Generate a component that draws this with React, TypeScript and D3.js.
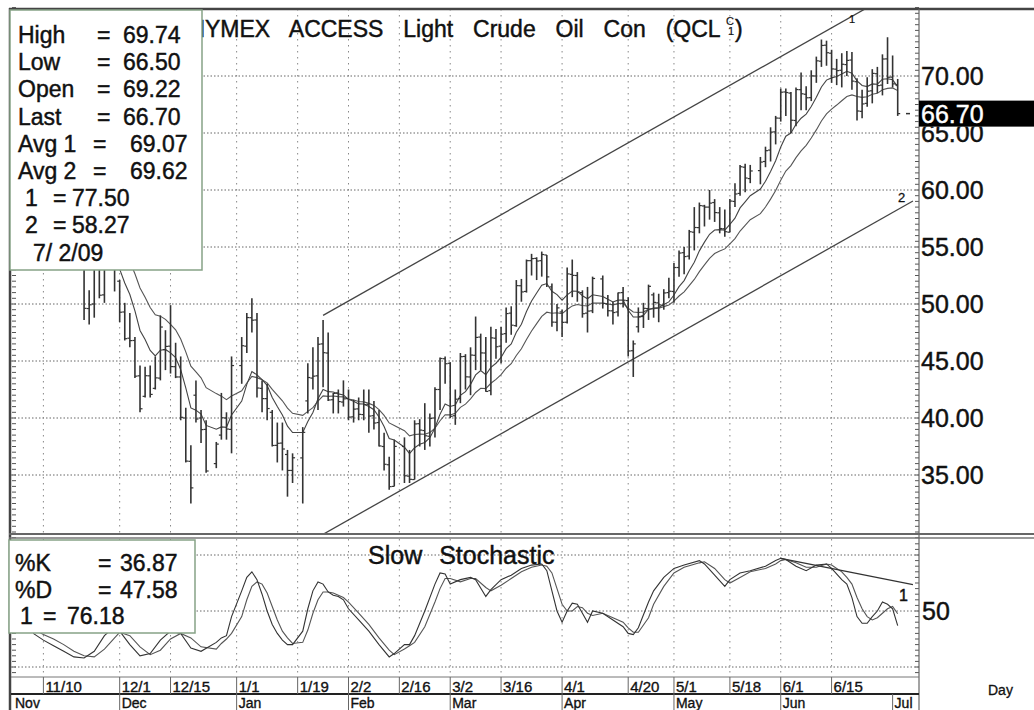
import React from 'react';
import * as d3 from 'd3';

// ---------- DATA ----------
const dates = [
  '2008-11-03','2008-11-04','2008-11-05','2008-11-06','2008-11-07','2008-11-10','2008-11-11','2008-11-12','2008-11-13','2008-11-14',
  '2008-11-17','2008-11-18','2008-11-19','2008-11-20','2008-11-21','2008-11-24','2008-11-25','2008-11-26','2008-11-28',
  '2008-12-01','2008-12-02','2008-12-03','2008-12-04','2008-12-05','2008-12-08','2008-12-09','2008-12-10','2008-12-11','2008-12-12',
  '2008-12-15','2008-12-16','2008-12-17','2008-12-18','2008-12-19','2008-12-22','2008-12-23','2008-12-24','2008-12-26',
  '2008-12-29','2008-12-30','2008-12-31','2009-01-02','2009-01-05','2009-01-06','2009-01-07','2009-01-08','2009-01-09',
  '2009-01-12','2009-01-13','2009-01-14','2009-01-15','2009-01-16','2009-01-20','2009-01-21','2009-01-22','2009-01-23',
  '2009-01-26','2009-01-27','2009-01-28','2009-01-29','2009-01-30','2009-02-02','2009-02-03','2009-02-04','2009-02-05','2009-02-06',
  '2009-02-09','2009-02-10','2009-02-11','2009-02-12','2009-02-13','2009-02-17','2009-02-18','2009-02-19','2009-02-20',
  '2009-02-23','2009-02-24','2009-02-25','2009-02-26','2009-02-27','2009-03-02','2009-03-03','2009-03-04','2009-03-05','2009-03-06',
  '2009-03-09','2009-03-10','2009-03-11','2009-03-12','2009-03-13','2009-03-16','2009-03-17','2009-03-18','2009-03-19','2009-03-20',
  '2009-03-23','2009-03-24','2009-03-25','2009-03-26','2009-03-27','2009-03-30','2009-03-31','2009-04-01','2009-04-02','2009-04-03',
  '2009-04-06','2009-04-07','2009-04-08','2009-04-09','2009-04-13','2009-04-14','2009-04-15','2009-04-16','2009-04-17',
  '2009-04-20','2009-04-21','2009-04-22','2009-04-23','2009-04-24','2009-04-27','2009-04-28','2009-04-29','2009-04-30','2009-05-01',
  '2009-05-04','2009-05-05','2009-05-06','2009-05-07','2009-05-08','2009-05-11','2009-05-12','2009-05-13','2009-05-14','2009-05-15',
  '2009-05-18','2009-05-19','2009-05-20','2009-05-21','2009-05-22','2009-05-26','2009-05-27','2009-05-28','2009-05-29',
  '2009-06-01','2009-06-02','2009-06-03','2009-06-04','2009-06-05','2009-06-08','2009-06-09','2009-06-10','2009-06-11','2009-06-12',
  '2009-06-15','2009-06-16','2009-06-17','2009-06-18','2009-06-19','2009-06-22','2009-06-23','2009-06-24','2009-06-25','2009-06-26',
  '2009-06-29','2009-06-30','2009-07-01','2009-07-02'
];
const opens = [
  67.5,64.0,70.5,65.3,60.8,61.0,62.4,59.3,56.2,58.2,
  57.0,55.0,54.4,53.6,49.6,50.0,54.5,50.8,54.4,
  52.0,49.3,47.0,46.8,43.7,41.9,43.7,42.6,43.5,46.0,
  46.3,44.5,43.6,40.0,36.2,42.0,40.0,39.0,36.0,
  38.5,40.0,39.0,44.6,46.3,48.8,48.6,42.6,41.7,
  40.5,37.6,37.8,36.8,35.4,36.5,41.5,43.5,43.7,
  46.5,45.7,41.6,42.2,41.4,41.7,40.1,40.8,40.3,41.2,
  40.2,39.6,37.5,35.9,34.0,37.5,34.9,34.6,39.5,
  38.9,38.4,40.0,42.5,45.2,44.8,40.2,41.7,45.4,43.6,
  45.5,47.1,45.7,42.4,47.0,46.3,47.4,49.2,48.1,51.6,
  51.1,53.8,54.0,53.8,54.3,51.5,48.4,49.3,48.4,52.6,
  52.5,51.0,49.2,49.4,52.2,50.0,49.4,49.3,51.0,
  50.3,45.9,48.0,48.9,49.6,50.8,50.1,49.9,51.0,51.1,
  53.2,54.5,54.2,56.3,56.7,58.6,58.5,58.9,58.0,56.6,
  56.3,59.0,59.7,62.0,61.0,61.7,62.5,63.5,65.1,
  66.3,68.6,68.5,66.1,68.8,68.4,68.1,70.0,71.3,72.7,
  72.0,70.6,70.5,71.0,71.4,69.5,66.9,67.6,68.7,70.2,
  69.2,71.5,69.9,69.22
];
const highs = [
  67.9,71.0,71.0,65.8,62.9,65.2,63.0,59.8,59.7,59.8,
  58.4,56.5,55.7,53.8,51.2,54.7,55.0,54.6,55.2,
  52.1,50.1,49.2,47.1,44.6,44.5,44.6,45.4,49.0,47.7,
  49.9,46.6,45.4,40.9,37.6,43.3,40.7,39.8,37.9,
  42.2,40.5,45.4,47.1,49.2,50.5,49.2,43.3,43.0,
  40.7,39.6,39.6,37.2,36.9,39.2,44.8,46.2,47.1,
  48.6,47.5,42.2,42.5,43.3,42.5,41.6,41.8,42.5,42.5,
  41.5,40.7,38.7,36.6,38.1,38.3,37.2,39.8,39.9,
  41.3,40.4,42.7,45.3,45.4,44.9,42.5,45.7,45.6,46.2,
  48.9,47.4,47.1,48.0,47.8,48.0,49.7,49.8,52.1,52.2,
  53.9,54.4,54.1,54.6,54.3,51.8,50.0,49.5,53.2,53.9,
  52.8,51.2,51.5,52.4,52.5,50.8,50.2,51.0,51.5,
  50.6,46.8,49.7,50.1,51.7,51.0,50.9,51.3,52.3,53.6,
  54.7,55.0,56.5,58.5,58.9,58.7,60.0,59.2,58.5,58.3,
  59.2,60.6,62.2,62.3,62.2,62.9,63.8,65.5,66.5,
  68.9,68.9,68.6,69.0,70.3,69.1,70.5,71.7,73.2,73.1,
  72.3,71.5,72.0,72.2,72.1,69.8,68.8,69.9,70.6,70.8,
  71.9,73.4,71.8,69.74
];
const lows = [
  62.8,63.5,65.0,60.5,59.6,61.0,58.7,55.8,54.7,56.2,
  54.3,53.2,53.3,48.6,48.2,48.8,50.5,50.1,51.1,
  48.4,46.8,46.2,43.5,40.5,41.8,41.8,42.5,43.3,44.2,
  43.9,43.5,39.8,36.1,32.5,39.6,37.8,35.2,35.6,
  38.1,38.1,36.9,43.0,45.7,47.5,41.8,40.5,39.8,
  37.5,36.1,35.4,33.1,34.3,32.5,40.4,42.5,40.7,
  42.7,41.5,40.4,40.4,41.0,39.8,39.6,39.8,39.8,38.7,
  39.0,37.5,35.4,33.7,34.0,34.3,34.3,34.6,37.5,
  37.2,37.5,38.3,40.7,43.0,40.0,39.4,41.3,42.5,42.0,
  44.2,44.2,42.3,42.0,45.2,44.8,46.6,47.3,48.0,50.2,
  51.0,52.5,52.1,52.4,51.5,48.0,47.6,47.1,48.3,50.6,
  50.2,48.8,47.5,49.2,49.6,48.9,48.2,48.9,49.7,
  45.4,43.6,47.5,47.9,48.6,48.8,48.4,49.5,50.5,50.1,
  52.4,52.6,53.9,54.7,56.2,56.8,57.4,57.2,56.2,55.9,
  56.3,58.5,59.5,59.8,60.6,60.5,62.0,62.5,64.0,
  66.0,66.5,65.0,65.6,67.0,67.0,67.8,69.4,70.8,70.9,
  69.4,69.2,69.0,70.0,68.8,66.1,66.3,67.3,67.6,68.5,
  68.3,69.3,69.0,66.50
];
const closes = [
  63.91,70.53,65.30,60.77,61.04,62.41,59.33,56.16,58.24,57.04,
  54.95,54.39,53.62,49.62,49.93,54.50,50.77,54.44,54.43,
  49.28,46.96,46.79,43.67,40.81,43.71,42.07,43.52,47.98,46.28,
  44.51,43.60,40.06,36.22,33.87,39.91,38.98,35.35,37.71,
  40.02,39.03,44.60,46.34,48.81,48.58,42.63,41.70,40.83,
  37.59,37.78,37.28,35.40,36.51,38.74,43.55,43.67,46.47,
  45.73,41.58,42.16,41.44,41.68,40.08,40.78,40.32,41.17,40.17,
  39.56,37.55,35.94,33.98,37.51,34.93,34.62,39.48,38.94,
  38.44,39.96,42.50,45.22,44.76,40.15,41.65,45.38,43.61,45.52,
  47.07,45.71,42.33,47.03,46.25,47.35,49.16,48.14,51.61,51.06,
  53.80,53.98,53.77,54.34,52.38,48.41,49.66,48.39,52.64,52.51,
  51.05,49.15,49.38,52.24,50.05,49.41,49.25,50.98,50.33,
  45.88,46.50,48.86,49.62,51.55,50.14,49.92,50.97,51.12,53.20,
  54.47,54.16,56.34,56.71,58.63,58.50,58.85,58.02,56.62,56.34,
  59.03,59.65,62.04,61.05,61.67,62.45,63.45,65.08,66.31,
  68.58,68.55,66.12,68.81,68.44,68.09,70.01,71.33,72.68,72.04,
  70.62,70.47,71.03,71.37,69.55,66.93,67.55,68.67,70.23,69.16,
  71.49,69.89,69.31,66.70
];

const stochDates = [
  '2008-11-06','2008-11-10','2008-11-12','2008-11-14','2008-11-18','2008-11-20','2008-11-24','2008-11-26','2008-11-28',
  '2008-12-01','2008-12-03','2008-12-05','2008-12-09','2008-12-11','2008-12-15','2008-12-17','2008-12-19','2008-12-23',
  '2008-12-26','2008-12-29','2008-12-30','2008-12-31','2009-01-02','2009-01-05','2009-01-06','2009-01-07','2009-01-08',
  '2009-01-09','2009-01-12','2009-01-13','2009-01-14','2009-01-15','2009-01-16','2009-01-20','2009-01-21','2009-01-22',
  '2009-01-23','2009-01-26','2009-01-27','2009-01-28','2009-01-29','2009-01-30','2009-02-02','2009-02-04','2009-02-06',
  '2009-02-10','2009-02-12','2009-02-13','2009-02-17','2009-02-18','2009-02-19','2009-02-23','2009-02-25','2009-02-26',
  '2009-02-27','2009-03-02','2009-03-04','2009-03-06','2009-03-09','2009-03-11','2009-03-12','2009-03-16','2009-03-18',
  '2009-03-20','2009-03-24','2009-03-26','2009-03-27','2009-03-30','2009-03-31','2009-04-01','2009-04-02','2009-04-03',
  '2009-04-06','2009-04-07','2009-04-08','2009-04-09','2009-04-13','2009-04-15','2009-04-17','2009-04-20','2009-04-21',
  '2009-04-22','2009-04-24','2009-04-27','2009-04-29','2009-05-01','2009-05-05','2009-05-08','2009-05-11','2009-05-13',
  '2009-05-15','2009-05-18','2009-05-20','2009-05-22','2009-05-27','2009-05-29','2009-06-01','2009-06-02','2009-06-04',
  '2009-06-08','2009-06-10','2009-06-12','2009-06-15','2009-06-17','2009-06-18','2009-06-19','2009-06-22','2009-06-23',
  '2009-06-24','2009-06-25','2009-06-26','2009-06-29','2009-06-30','2009-07-01','2009-07-02'
];
const stochK = [
  30,24,19,14,9,8,14,28,36,
  32,20,10,12,24,32,30,17,14,
  22,26,28,45,68,80,85,78,65,
  50,38,30,24,20,20,32,52,68,
  76,74,67,64,63,60,52,42,32,
  20,9,12,20,20,28,50,74,84,
  83,74,78,80,78,63,69,78,82,
  88,91,92,86,68,50,40,50,57,
  56,48,40,50,48,42,36,30,29,
  35,58,68,80,88,91,95,92,82,
  72,78,84,86,90,95,97,96,90,
  86,91,92,88,78,74,62,45,39,
  39,45,50,58,56,52,36.87
];
const stochD = [
  34,29,25,20,14,10,9,16,26,
  31,28,18,11,15,25,30,26,18,
  16,21,25,30,45,60,72,76,74,
  66,54,42,32,26,21,22,33,48,
  60,67,67,66,64,62,58,48,38,
  26,15,11,16,19,22,36,58,70,
  79,79,76,79,79,71,68,73,79,
  85,89,91,90,84,70,56,50,50,
  54,53,48,46,48,44,40,35,31,
  31,44,56,72,84,89,93,94,88,
  78,75,80,85,88,92,95,96,93,
  89,89,92,91,85,80,74,62,52,
  45,42,44,48,52,54,47.58
];

const priceTicks = [35, 40, 45, 50, 55, 60, 65, 70];
const stochTicks = [0, 50, 100];
const stochLabels = [50];
const dateTickDates = ['2008-11-10','2008-12-01','2008-12-15','2009-01-01','2009-01-19','2009-02-02','2009-02-16','2009-03-02','2009-03-16','2009-04-01','2009-04-20','2009-05-01','2009-05-18','2009-06-01','2009-06-15'];
const dateTickLabels = ['11/10','12/1','12/15','1/1','1/19','2/2','2/16','3/2','3/16','4/1','4/20','5/1','5/18','6/1','6/15'];
const monthDates = ['2008-11-03','2008-12-01','2009-01-01','2009-02-02','2009-03-02','2009-04-01','2009-05-01','2009-06-01','2009-07-01'];
const monthLabels = ['Nov','Dec','Jan','Feb','Mar','Apr','May','Jun','Jul'];

const channelDates = ['2009-01-26', '2009-07-07'];
const channel1Values = [49.0, 78.26];
const channel2Values = [29.8, 59.03];
const stochTrendDates = ['2009-06-01', '2009-07-07'];
const stochTrendValues = [97, 73.5];

const infoLabels = ['High', 'Low', 'Open', 'Last', 'Avg 1', 'Avg 2', '1', '2'];
const infoValues = ['69.74', '66.50', '69.22', '66.70', '69.07', '69.62', '77.50', '58.27'];
const infoDate = '7/ 2/09';
const stochInfoLabels = ['%K', '%D', '1'];
const stochInfoValues = ['36.87', '47.58', '76.18'];
const lastPrice = 66.70;
const titleText = 'NYMEX ACCESS Light Crude Oil Con (QCL';
const avgPeriods = [9, 18];

// ---------- helpers ----------
const BASE = Date.UTC(2008, 10, 10); // Monday, weekday index 0
function wd(iso: string): number {
  const [yy, mm, dd] = iso.split('-').map(Number);
  const days = Math.round((Date.UTC(yy, mm - 1, dd) - BASE) / 864e5);
  const w = Math.floor(days / 7);
  const r = days - w * 7;
  return w * 5 + Math.min(r, 5);
}
function ema(vals: number[], n: number): number[] {
  const k = 2 / (n + 1);
  const out: number[] = [];
  let e = vals[0];
  vals.forEach((v, i) => { e = i === 0 ? v : e + k * (v - e); out.push(e); });
  return out;
}

const FONT = "'Liberation Sans', Arial, Helvetica, sans-serif";

export default function App() {
  const W = 1034, H = 710;
  const L = 11, R = 919, T = 9, B = 534, ST = 539, SB = 677;

  const x = d3.scaleLinear().domain([0, 168]).range([43.4, 897.7]);
  const X = (iso: string) => x(wd(iso));
  const y = d3.scaleLinear().domain([35, 70]).range([475, 76]);
  const ys = d3.scaleLinear().domain([0, 100]).range([667, 555]);

  const xs = dates.map(X);
  const ema1 = ema(closes, avgPeriods[0]);
  const ema2 = ema(closes, avgPeriods[1]);
  const lineP = d3.line<number>().x((_, i) => xs[i]).y((v) => y(v));
  const sx = stochDates.map(X);
  const lineS = d3.line<number>().x((_, i) => sx[i]).y((v) => ys(v));

  const minorPrice = d3.range(29.5, 76.01, 0.5);
  const minorStoch = d3.range(-5, 115, 5);
  const gridV = dateTickDates.map(X);

  const txt = { fontFamily: FONT, fill: '#111', stroke: '#111', strokeWidth: 0.45 } as const;
  const yLast = y(lastPrice);

  return (
    <svg width={W} height={H} style={{ position: 'absolute', left: 0, top: 0, background: '#fff' }}>
      <defs>
        <clipPath id="cpMain"><rect x={L + 1} y={T} width={R - L - 1} height={B - T} /></clipPath>
        <clipPath id="cpLow"><rect x={L + 1} y={ST} width={R - L - 1} height={SB - ST} /></clipPath>
        <clipPath id="cpAxis"><rect x={R} y={yLast + 13} width={W - R} height={H} /></clipPath>
      </defs>
      <rect x={0} y={0} width={W} height={H} fill="#fff" />

      {/* grid main */}
      {priceTicks.map((v) => (
        <line key={'gh' + v} x1={L} x2={R} y1={y(v)} y2={y(v)} stroke="#666" strokeWidth={1} strokeDasharray="1.5 2" />
      ))}
      {gridV.map((gx, i) => (
        <line key={'gv' + i} x1={gx} x2={gx} y1={T} y2={B} stroke="#888" strokeWidth={1} strokeDasharray="1.5 4.5" />
      ))}
      {/* grid lower */}
      {stochTicks.map((v) => (
        <line key={'sh' + v} x1={L} x2={R} y1={ys(v)} y2={ys(v)} stroke="#666" strokeWidth={1} strokeDasharray="1.5 2" />
      ))}
      {gridV.map((gx, i) => (
        <line key={'sv' + i} x1={gx} x2={gx} y1={ST} y2={SB} stroke="#888" strokeWidth={1} strokeDasharray="1.5 4.5" />
      ))}

      <g clipPath="url(#cpMain)">
        <line x1={X(channelDates[0])} y1={y(channel1Values[0])} x2={X(channelDates[1])} y2={y(channel1Values[1])} stroke="#444" strokeWidth={1.3} />
        <line x1={X(channelDates[0])} y1={y(channel2Values[0])} x2={X(channelDates[1])} y2={y(channel2Values[1])} stroke="#444" strokeWidth={1.3} />
        <path d={lineP(ema2) || ''} fill="none" stroke="#555" strokeWidth={1.1} />
        <path d={lineP(ema1) || ''} fill="none" stroke="#444" strokeWidth={1.1} />
        {dates.map((d, i) => (
          <g key={d} stroke="#333" strokeWidth={1.6}>
            <line x1={xs[i]} x2={xs[i]} y1={y(highs[i])} y2={y(lows[i])} />
            <line x1={xs[i] - 2.5} x2={xs[i]} y1={y(opens[i])} y2={y(opens[i])} strokeWidth={1.2} />
            <line x1={xs[i]} x2={xs[i] + 2.5} y1={y(closes[i])} y2={y(closes[i])} strokeWidth={1.2} />
          </g>
        ))}
      </g>

      <g clipPath="url(#cpLow)">
        <path d={lineS(stochD) || ''} fill="none" stroke="#555" strokeWidth={1.1} />
        <path d={lineS(stochK) || ''} fill="none" stroke="#333" strokeWidth={1.1} />
        <line x1={X(stochTrendDates[0])} y1={ys(stochTrendValues[0])} x2={X(stochTrendDates[1])} y2={ys(stochTrendValues[1])} stroke="#333" strokeWidth={1.3} />
      </g>

      {/* trend labels */}
      <text x={849} y={23} style={{ ...txt, fontSize: 11, strokeWidth: 0.2 }}>1</text>
      <text x={898} y={202} style={{ ...txt, fontSize: 13, strokeWidth: 0.3 }}>2</text>
      <text x={899} y={601} style={{ ...txt, fontSize: 16 }}>1</text>

      {/* minor ticks */}
      {minorPrice.map((v, i) => (
        <g key={'mt' + i} stroke="#555" strokeWidth={1}>
          <line x1={R - 4} x2={R} y1={y(v)} y2={y(v)} />
          <line x1={L + 1} x2={L + 5} y1={y(v)} y2={y(v)} />
        </g>
      ))}
      {minorStoch.map((v, i) => (
        <g key={'ms' + i} stroke="#555" strokeWidth={1}>
          <line x1={R - 4} x2={R} y1={ys(v)} y2={ys(v)} />
          <line x1={L + 1} x2={L + 5} y1={ys(v)} y2={ys(v)} />
        </g>
      ))}

      {/* borders */}
      <line x1={9} x2={W} y1={T} y2={T} stroke="#444" strokeWidth={2.5} />
      <line x1={L - 1} x2={L - 1} y1={8} y2={H} stroke="#444" strokeWidth={2.5} />
      <line x1={9} x2={W} y1={B} y2={B} stroke="#666" strokeWidth={2} />
      <line x1={9} x2={W} y1={538} y2={538} stroke="#777" strokeWidth={1.5} />
      <line x1={R} x2={R} y1={T} y2={H} stroke="#666" strokeWidth={1.2} />
      <line x1={L} x2={R} y1={SB} y2={SB} stroke="#777" strokeWidth={1} />
      <line x1={L} x2={R} y1={694} y2={694} stroke="#222" strokeWidth={2} />

      {/* right price labels (the one under the last-price box is partly hidden) */}
      {priceTicks.map((v) => (
        <text key={'pl' + v} x={R + 2} y={y(v) + 9} clipPath={Math.abs(y(v) - yLast) < 26 ? 'url(#cpAxis)' : undefined}
          style={{ ...txt, fontSize: 25 }}>{v.toFixed(2)}</text>
      ))}
      {stochLabels.map((v) => (
        <text key={'sl' + v} x={R + 3} y={ys(v) + 9} style={{ ...txt, fontSize: 25 }}>{v}</text>
      ))}
      {/* last price */}
      <line x1={906} x2={910} y1={yLast} y2={yLast} stroke="#333" strokeWidth={1.5} />
      <rect x={R} y={yLast - 13} width={W - R} height={26} fill="#000" />
      <text x={R + 2} y={yLast + 9} style={{ ...txt, fill: '#fff', stroke: '#fff', fontSize: 25 }}>{lastPrice.toFixed(2)}</text>

      {/* x axis labels */}
      {dateTickDates.map((d, i) => (
        <g key={'dt' + i}>
          <line x1={X(d)} x2={X(d)} y1={SB} y2={694} stroke="#666" strokeWidth={1} />
          <text x={X(d) + 2} y={692} style={{ ...txt, fontSize: 15, strokeWidth: 0.35 }}>{dateTickLabels[i]}</text>
        </g>
      ))}
      {monthDates.map((d, i) => (
        <g key={'mo' + i}>
          {i > 0 && <line x1={X(d)} x2={X(d)} y1={694} y2={H} stroke="#666" strokeWidth={1} />}
          <text x={i === 0 ? 15 : X(d) + 2} y={708} style={{ ...txt, fontSize: 14, strokeWidth: 0.35 }}>{monthLabels[i]}</text>
        </g>
      ))}
      <text x={988} y={695} style={{ ...txt, fontSize: 14, strokeWidth: 0.3 }}>Day</text>

      {/* title */}
      <text x={188.4} y={37} style={{ ...txt, fontSize: 23, wordSpacing: 13.5 }}>{titleText}</text>
      <text x={726} y={25} style={{ ...txt, fontSize: 11, strokeWidth: 0.2 }}>C</text>
      <text x={728} y={35} style={{ ...txt, fontSize: 11, strokeWidth: 0.2 }}>1</text>
      <text x={735} y={37} style={{ ...txt, fontSize: 23 }}>)</text>
      <text x={368} y={564} style={{ ...txt, fontSize: 25, wordSpacing: 10 }}>Slow Stochastic</text>

      {/* info box */}
      <rect x={10} y={10} width={192} height={260} fill="#fff" stroke="#86a286" strokeWidth={1.5} />
      {infoLabels.map((lab, i) => {
        const by = 43 + i * 27.2;
        const cols = i < 4 ? [18, 97, 123] : i < 6 ? [18, 93, 130] : [25, 53, 72];
        return (
          <g key={'il' + i} style={{ ...txt, fontSize: 23 }}>
            <text x={cols[0]} y={by}>{lab}</text>
            <text x={cols[1]} y={by}>=</text>
            <text x={cols[2]} y={by}>{infoValues[i]}</text>
          </g>
        );
      })}
      <text x={33} y={43 + 8 * 27.2} style={{ ...txt, fontSize: 23 }}>{infoDate}</text>

      {/* stochastic info box */}
      <rect x={9} y={540} width={186} height={93} fill="#fff" stroke="#86a286" strokeWidth={1.5} />
      {stochInfoLabels.map((lab, i) => {
        const by = 571 + i * 26.5;
        const cols = i < 2 ? [15, 98, 120] : [20, 43, 67];
        return (
          <g key={'si' + i} style={{ ...txt, fontSize: 23 }}>
            <text x={cols[0]} y={by}>{lab}</text>
            <text x={cols[1]} y={by}>=</text>
            <text x={cols[2]} y={by}>{stochInfoValues[i]}</text>
          </g>
        );
      })}
    </svg>
  );
}
